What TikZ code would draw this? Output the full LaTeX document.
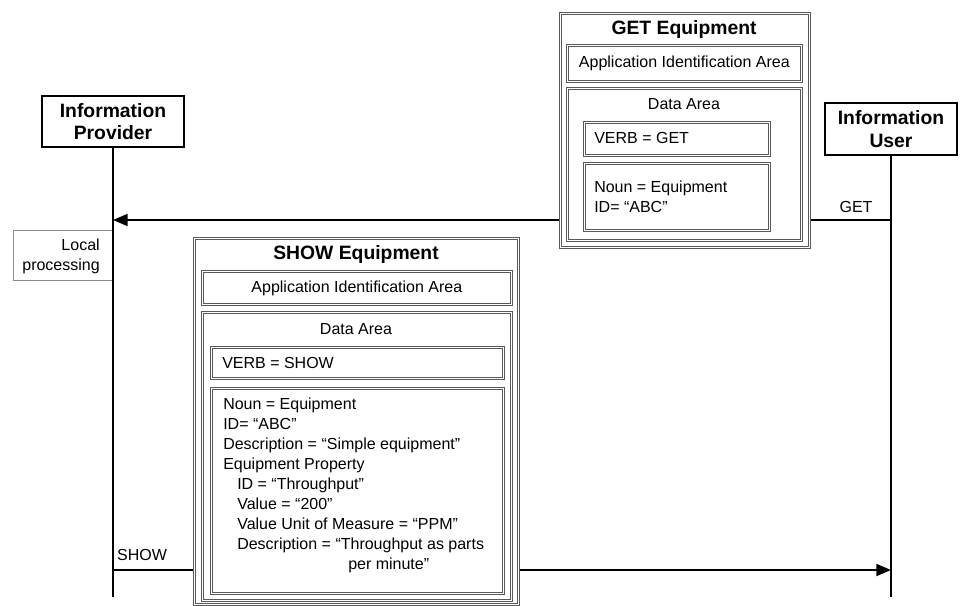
\documentclass[tikz,border=0pt]{standalone}
\usepackage{fontspec}
\setmainfont{Liberation Sans}
\usetikzlibrary{arrows.meta}

\tikzset{
  actor/.style={draw, line width=1.5pt, align=center, inner sep=0pt,
    font=\bfseries\fontsize{14.5}{17}\selectfont},
  msgframe/.style={draw=black!65, line width=0.55pt, double, double distance=0.7pt,
    fill=white, anchor=north west, inner sep=0pt, font=\fontsize{12}{15}\selectfont},
  txt/.style={inner sep=0pt, font=\fontsize{12}{15}\selectfont},
  headtxt/.style={inner sep=0pt, font=\bfseries\fontsize{14.5}{17}\selectfont},
  life/.style={line width=1.5pt},
  msg/.style={line width=1.5pt, -{Triangle[length=11pt,width=9pt]}},
  localbox/.style={draw=black!45, thin, anchor=north west, inner sep=0pt},
}

\begin{document}
\begin{tikzpicture}[x=0.75pt, y=-0.75pt]
\useasboundingbox (0,0) rectangle (961,606);

% lifelines
\node[actor, minimum width=106.5pt, minimum height=38.25pt] (prov) at (113,121.5) {Information\\Provider};
\node[actor, minimum width=99pt, minimum height=39pt] (user) at (891,129) {Information\\User};
\coordinate (prov-end) at (prov.south |- 0,597);
\coordinate (user-end) at (user.south |- 0,597);

% local processing
\node[localbox, minimum width=74.25pt, minimum height=37.5pt] (local) at (13,230) {};
\node[txt, align=right, anchor=north east] (localtxt) at (100,239) {Local\\processing};

\draw[life] (prov) -- (prov-end);
\draw[life] (user) -- (user-end);

% messages
\coordinate (get-a) at (user.south |- 0,220);
\coordinate (get-b) at (prov.south |- 0,220);
\coordinate (show-a) at (prov.south |- 0,570);
\coordinate (show-b) at (user.south |- 0,570);
\draw[msg] (get-a) -- (get-b);
\draw[msg] (show-a) -- (show-b);
\node[txt] (getlbl) at (856,207) {GET};
\node[txt] (showlbl) at (142,555) {SHOW};

% GET Equipment
\node[msgframe, minimum width=186.75pt, minimum height=175.5pt] (get) at (560,13) {};
\node[headtxt] (gettitle) at (684,30) {GET Equipment};
\node[msgframe, minimum width=175.5pt, minimum height=27pt] (getapp) at (567,45) {Application Identification Area};
\node[msgframe, minimum width=175.5pt, minimum height=114pt] (getdata) at (567,88) {};
\node[txt] (getdatatxt) at (684,104) {Data Area};
\node[msgframe, minimum width=138.75pt, minimum height=24.75pt] (getverb) at (584,122) {};
\node[txt, anchor=west] (getverbtxt) at (594,138) {VERB = GET};
\node[msgframe, minimum width=138.75pt, minimum height=50.25pt] (getnoun) at (584,163) {};
\node[txt, align=left, anchor=north west] (getnountxt) at (594,181) {Noun = Equipment\\ID= “ABC”};

% SHOW Equipment
\node[msgframe, minimum width=243pt, minimum height=274.5pt] (show) at (194,238) {};
\node[headtxt] (showtitle) at (356,255) {SHOW Equipment};
\node[msgframe, minimum width=231.75pt, minimum height=24.75pt] (showapp) at (202,271) {Application Identification Area};
\node[msgframe, minimum width=231.75pt, minimum height=216pt] (showdata) at (202,312) {};
\node[txt] (showdatatxt) at (356,329) {Data Area};
\node[msgframe, minimum width=219pt, minimum height=23.25pt] (showverb) at (211,347) {};
\node[txt, anchor=west] (showverbtxt) at (222,363) {VERB = SHOW};
\node[msgframe, minimum width=219pt, minimum height=153.75pt] (shownoun) at (211,388) {};
\node[txt, align=left, anchor=north west] (shownountxt) at (223,398) {Noun = Equipment\\
  ID= “ABC”\\
  Description = “Simple equipment”\\
  Equipment Property\\
  \hspace*{10.5pt}ID = “Throughput”\\
  \hspace*{10.5pt}Value = “200”\\
  \hspace*{10.5pt}Value Unit of Measure = “PPM”\\
  \hspace*{10.5pt}Description = “Throughput as parts\\
  \hspace*{93.75pt}per minute”};
\end{tikzpicture}
\end{document}
